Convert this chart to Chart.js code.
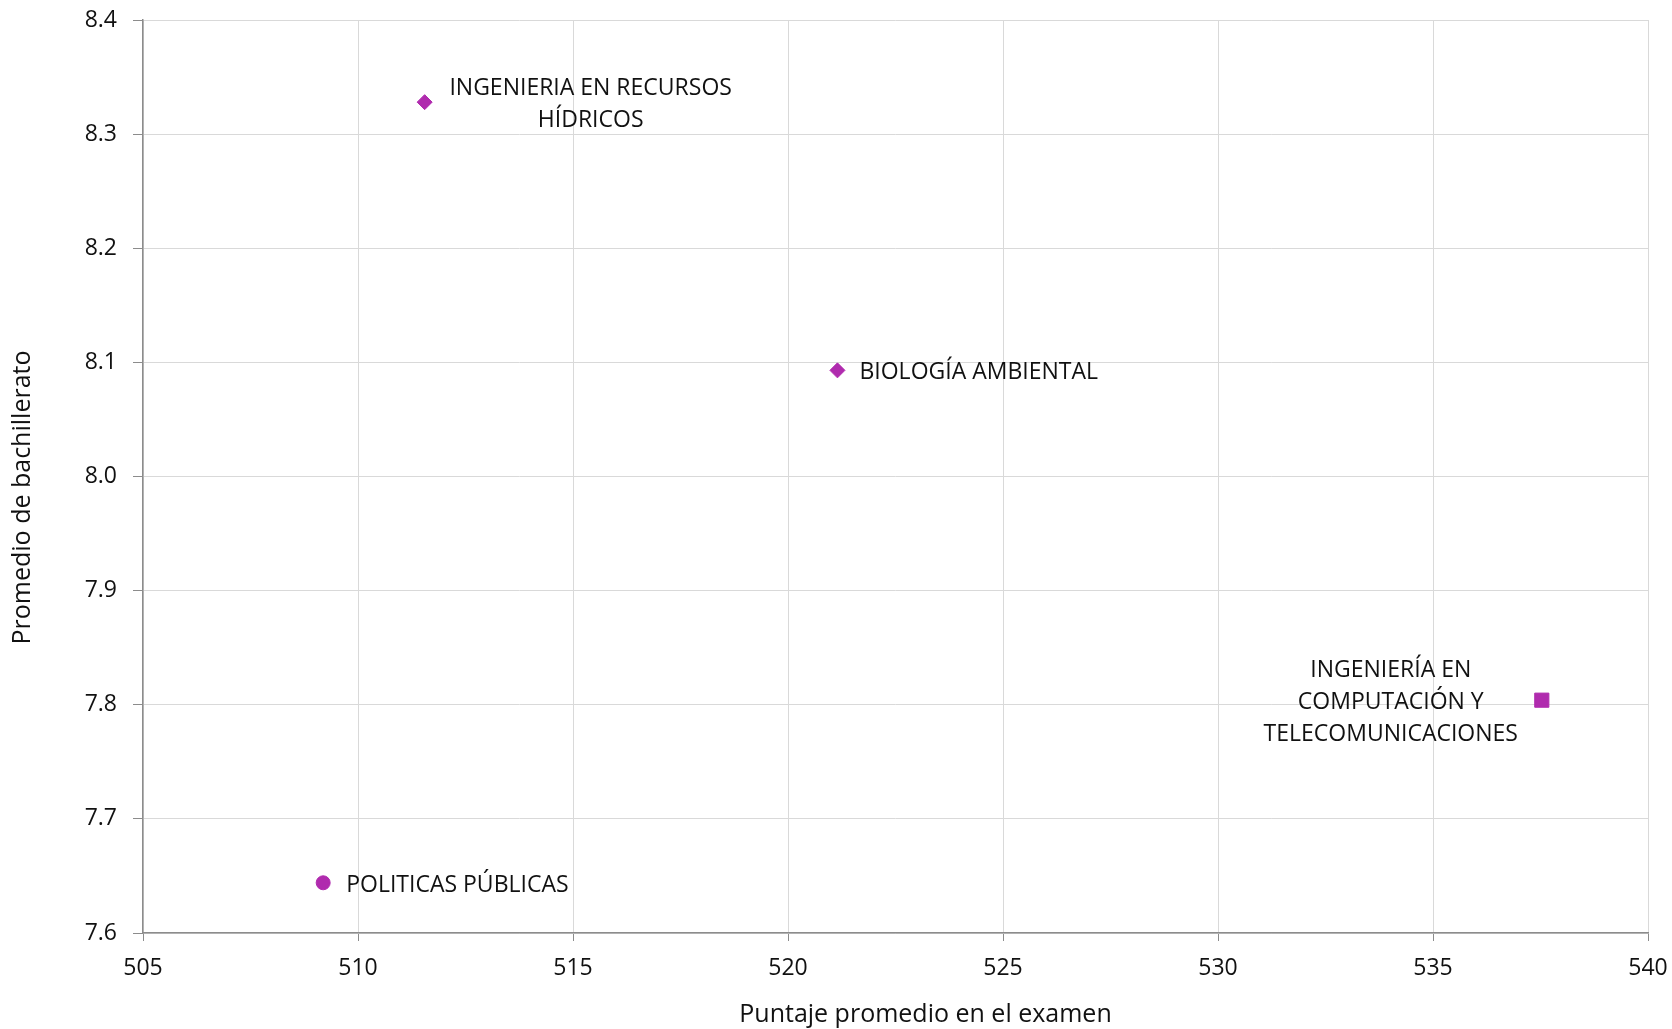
<!DOCTYPE html>
<html>
<head>
<meta charset="utf-8">
<script src="https://cdn.jsdelivr.net/npm/chart.js@4/dist/chart.umd.min.js"></script>
<style>
  html, body { margin: 0; padding: 0; background: #ffffff; }
  #wrap { width: 1672px; height: 1029px; position: relative; }
</style>
</head>
<body>
<div id="wrap"><canvas id="c" width="1672" height="1029"></canvas></div>
<script>
// ---- Data ----
const categories = [
  ['INGENIERIA EN RECURSOS', 'HÍDRICOS'],
  ['BIOLOGÍA AMBIENTAL'],
  ['INGENIERÍA EN', 'COMPUTACIÓN Y', 'TELECOMUNICACIONES'],
  ['POLITICAS PÚBLICAS']
];
const examScores = [511.55, 521.15, 537.53, 509.19];
const hsAverages = [8.328, 8.093, 7.804, 7.644];
const xTicksRange = [505, 540];
const yTicksRange = [7.6, 8.4];
const xTitle = 'Puntaje promedio en el examen';
const yTitle = 'Promedio de bachillerato';

// ---- Styles / layout ----
const FONT = '"Open Sans", "DejaVu Sans", sans-serif';
const markColor = '#B02BAE';
const textColor = '#111111';
const pointStyles = ['rectRot', 'rectRot', 'rect', 'circle'];
const pointRadii = [7.5, 7.5, 10, 7];
// label placement relative to point: dx, dy of first line, align
const labelLayout = [
  { dx: 166, dy: -14, align: 'center' },
  { dx: 22, dy: 2, align: 'left' },
  { dx: -151, dy: -30, align: 'center' },
  { dx: 23, dy: 2.5, align: 'left' }
];
const LINE_H = 32;
// axis title placement (offset of centre from chart-area centre; baseline position)
const titleLayout = {
  x: { dx: 30, baselineY: 1022 },
  y: { dy: 21, baselineX: 29.5 },
  size: 25
};

const points = examScores.map((x, i) => ({ x: x, y: hsAverages[i] }));

const labelPlugin = {
  id: 'pointLabels',
  afterDatasetsDraw(chart) {
    const ctx = chart.ctx;
    const meta = chart.getDatasetMeta(0);
    ctx.save();
    ctx.font = '23px ' + FONT;
    ctx.fillStyle = textColor;
    ctx.textBaseline = 'middle';
    meta.data.forEach((el, i) => {
      const L = labelLayout[i];
      ctx.textAlign = L.align;
      categories[i].forEach((line, k) => {
        ctx.fillText(line, el.x + L.dx, el.y + L.dy + k * LINE_H);
      });
    });
    ctx.restore();
  }
};

const axisTitlePlugin = {
  id: 'axisTitles',
  afterDraw(chart) {
    const ctx = chart.ctx;
    const a = chart.chartArea;
    ctx.save();
    ctx.font = titleLayout.size + 'px ' + FONT;
    ctx.fillStyle = textColor;
    ctx.textAlign = 'center';
    ctx.textBaseline = 'alphabetic';
    ctx.fillText(xTitle, (a.left + a.right) / 2 + titleLayout.x.dx, titleLayout.x.baselineY);
    ctx.translate(titleLayout.y.baselineX, (a.top + a.bottom) / 2 + titleLayout.y.dy);
    ctx.rotate(-Math.PI / 2);
    ctx.fillText(yTitle, 0, 0);
    ctx.restore();
  }
};

new Chart(document.getElementById('c'), {
  type: 'scatter',
  data: {
    datasets: [{
      data: points,
      pointStyle: pointStyles,
      pointRadius: pointRadii,
      pointHoverRadius: pointRadii,
      backgroundColor: markColor,
      borderColor: markColor,
      borderWidth: 1
    }]
  },
  options: {
    responsive: false,
    animation: false,
    events: [],
    layout: { padding: { left: 0, top: 20, right: 24, bottom: 0 } },
    plugins: { legend: { display: false }, tooltip: { enabled: false } },
    scales: {
      x: {
        type: 'linear',
        min: xTicksRange[0],
        max: xTicksRange[1],
        afterFit(scale) {
          scale.height = 96;
          scale.paddingLeft = 0; scale.paddingRight = 0;
        },
        ticks: {
          stepSize: 5,
          padding: 14,
          color: textColor,
          font: { family: FONT, size: 23 }
        },
        grid: { color: '#d9d9d9', tickColor: '#8c8c8c', tickLength: 8, lineWidth: 1 },
        border: { color: '#8c8c8c', width: 1.5 },
        title: { display: false }
      },
      y: {
        type: 'linear',
        min: yTicksRange[0],
        max: yTicksRange[1],
        afterFit(scale) {
          scale.width = 143;
          scale.paddingTop = 0; scale.paddingBottom = 0;
        },
        ticks: {
          stepSize: 0.1,
          padding: 16,
          color: textColor,
          font: { family: FONT, size: 23 },
          callback: (v) => Number(v).toFixed(1)
        },
        grid: { color: '#d9d9d9', tickColor: '#8c8c8c', tickLength: 10, lineWidth: 1 },
        border: { color: '#8c8c8c', width: 1.5 },
        title: { display: false }
      }
    }
  },
  plugins: [labelPlugin, axisTitlePlugin]
});
</script>
</body>
</html>
